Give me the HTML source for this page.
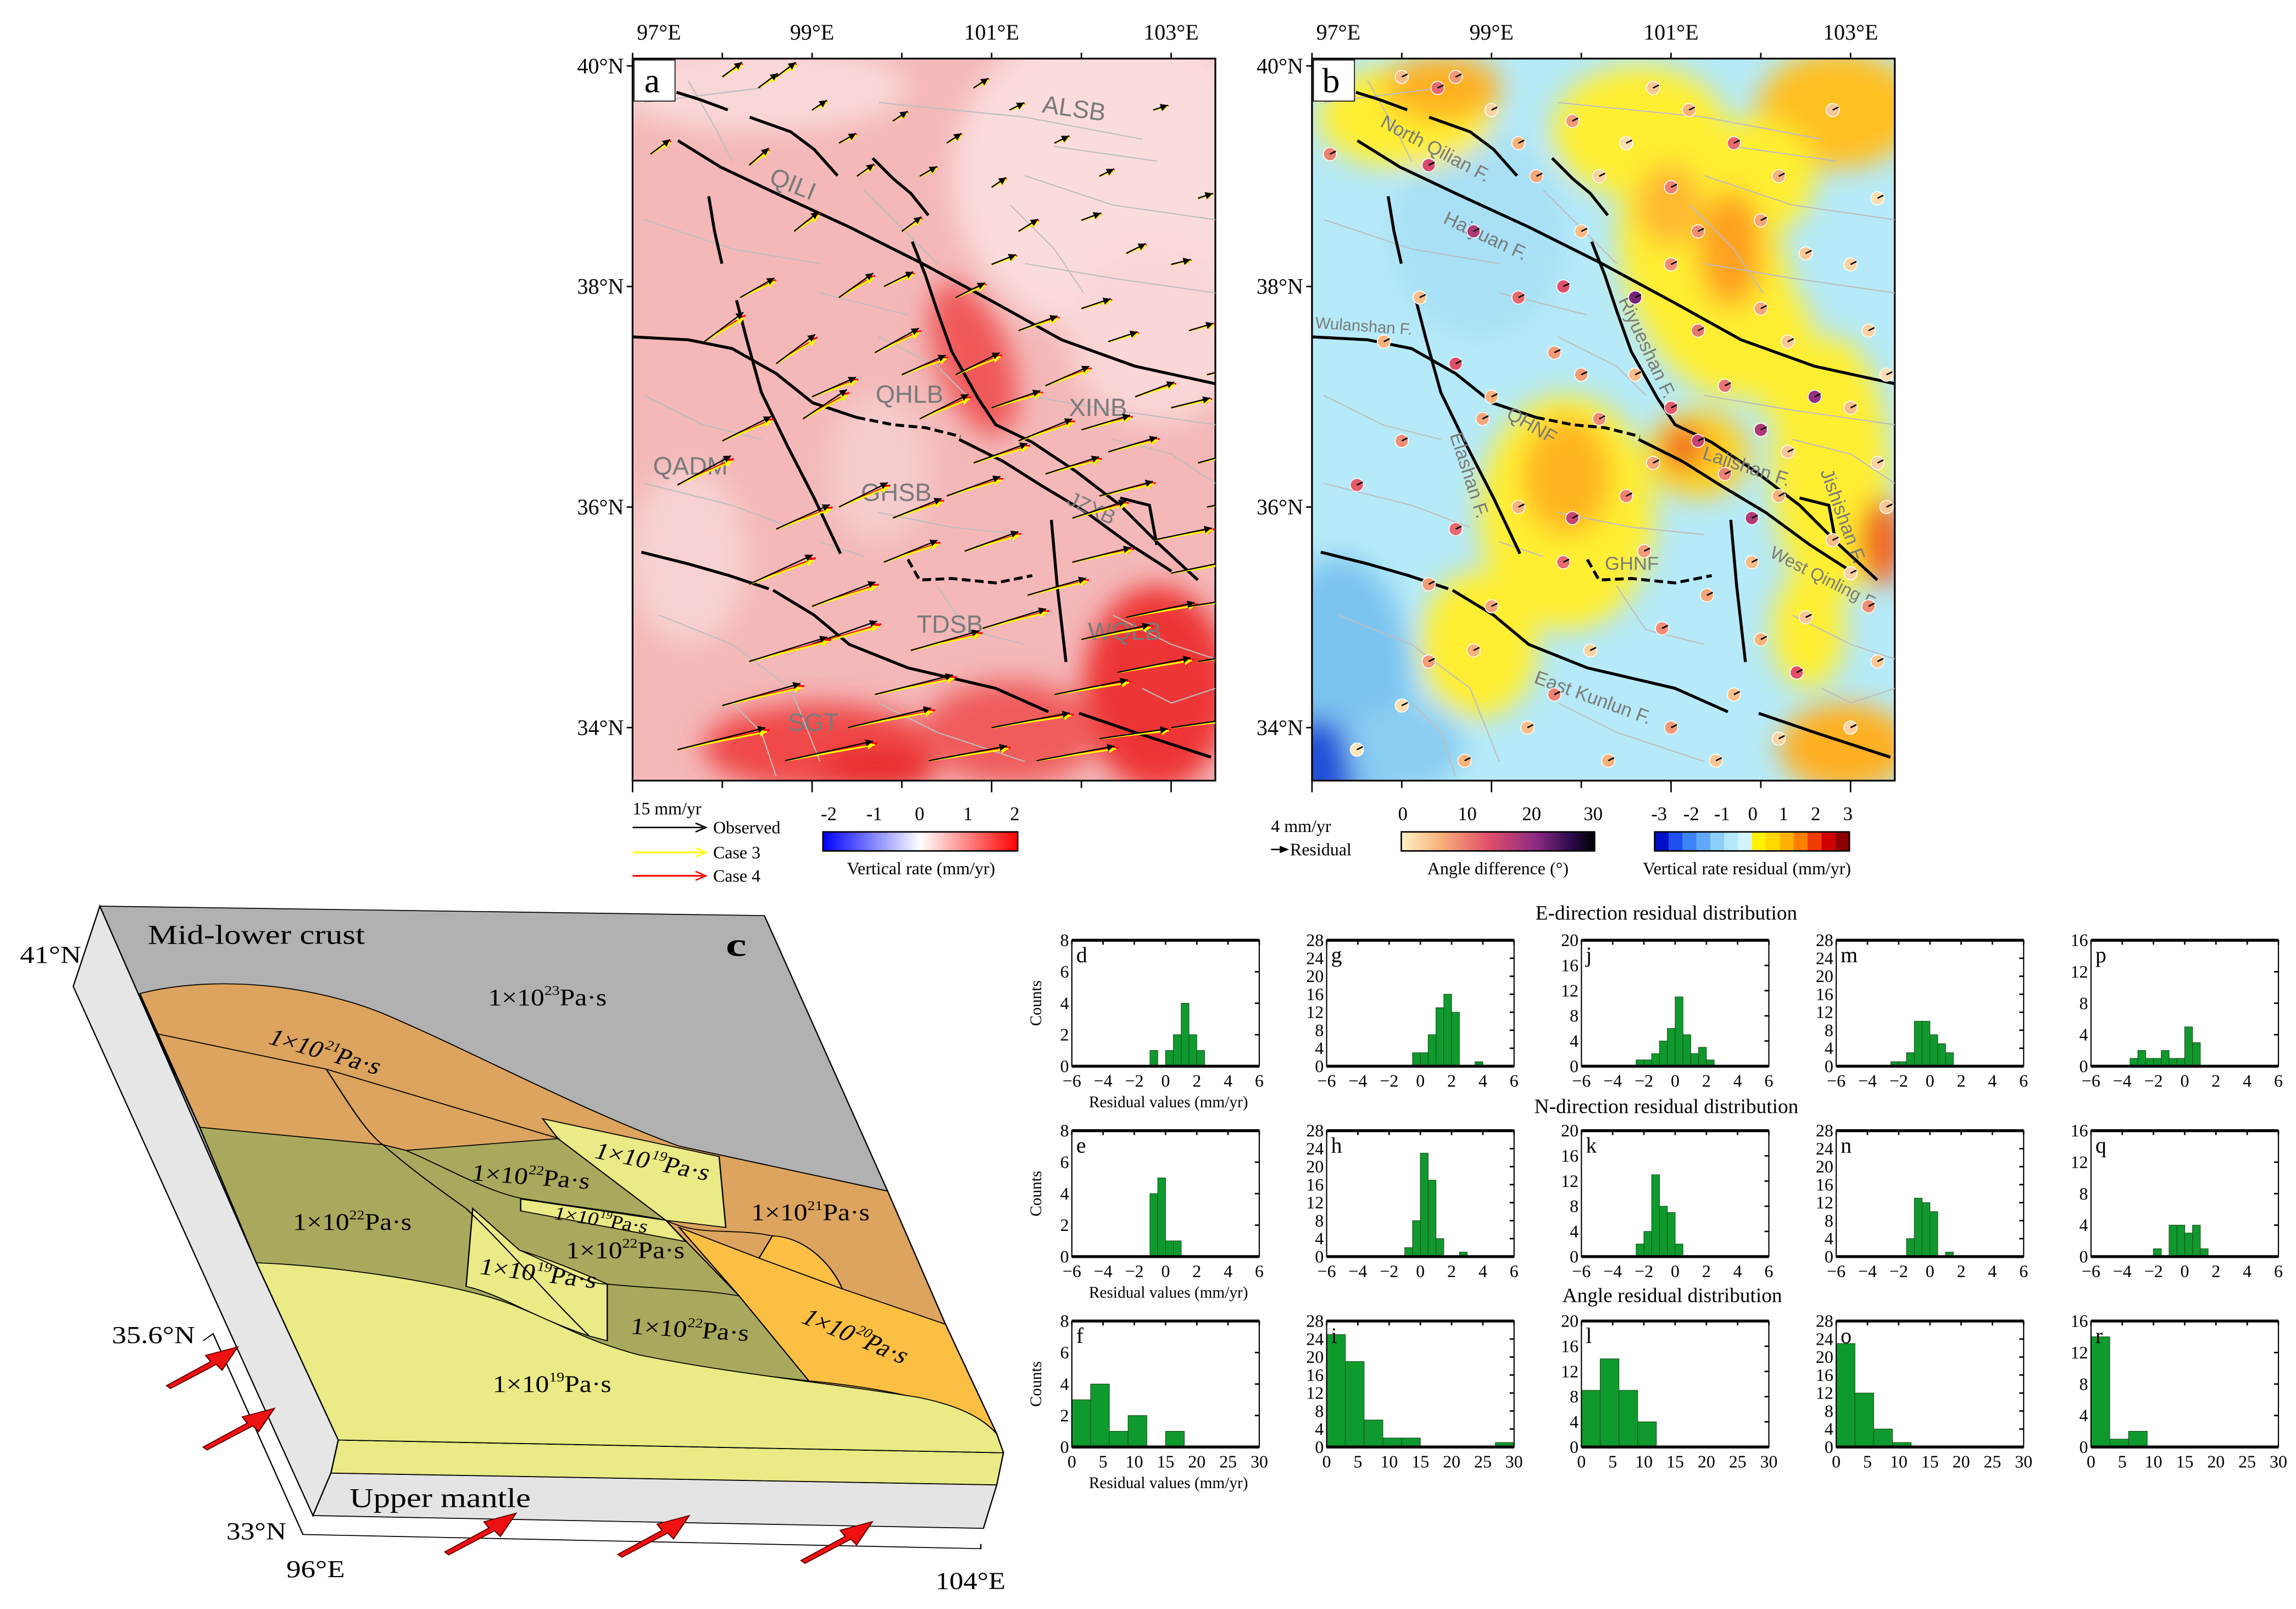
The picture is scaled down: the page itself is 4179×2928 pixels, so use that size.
<!DOCTYPE html>
<html><head><meta charset="utf-8"><title>Figure</title>
<style>html,body{margin:0;padding:0;background:#fff;}svg{display:block;}</style></head>
<body>
<svg id="fig" xmlns="http://www.w3.org/2000/svg" width="4179" height="2928" viewBox="0 0 1568 1098.6" font-family="'Liberation Serif', serif">
<defs>
<filter id="blur" x="-30%" y="-30%" width="160%" height="160%"><feGaussianBlur stdDeviation="9"/></filter>
<clipPath id="clipA"><rect x="432" y="40" width="398" height="493"/></clipPath>
<clipPath id="clipB"><rect x="896" y="40" width="398" height="493"/></clipPath>
<linearGradient id="gA" x1="0" x2="1"><stop offset="0" stop-color="#0000ff"/><stop offset="0.5" stop-color="#ffffff"/><stop offset="1" stop-color="#ff0000"/></linearGradient>
<linearGradient id="gAng" x1="0" x2="1"><stop offset="0" stop-color="#fdf2c8"/><stop offset="0.2" stop-color="#f9b27a"/><stop offset="0.45" stop-color="#e0506a"/><stop offset="0.7" stop-color="#8a2a82"/><stop offset="0.88" stop-color="#2a0a4a"/><stop offset="1" stop-color="#000000"/></linearGradient>
</defs>

<!-- MAP A -->
<g id="mapA">
<g clip-path="url(#clipA)">
<rect x="432" y="40" width="398" height="493" fill="#f4b8b8"/>
<g filter="url(#blur)">
<ellipse cx="760" cy="120" rx="110" ry="110" fill="#fbdcdc"/>
<ellipse cx="790" cy="230" rx="60" ry="60" fill="#fad6d6"/>
<ellipse cx="520" cy="60" rx="100" ry="30" fill="#fad8d8"/>
<ellipse cx="470" cy="380" rx="40" ry="60" fill="#f8d2d2"/>
<ellipse cx="600" cy="320" rx="35" ry="50" fill="#f6cccc"/>
<ellipse cx="665" cy="245" rx="25" ry="55" fill="#f05858" transform="rotate(-20 665 245)"/>
<ellipse cx="560" cy="510" rx="80" ry="30" fill="#f04848"/>
<ellipse cx="790" cy="470" rx="50" ry="70" fill="#ee3434"/>
<ellipse cx="690" cy="500" rx="60" ry="35" fill="#f05c5c"/>
<ellipse cx="600" cy="525" rx="40" ry="15" fill="#ea2a2a"/>
</g>
</g>
<rect x="432" y="40" width="398" height="493" fill="none" stroke="#000" stroke-width="1.2"/>
<g id="grayA" fill="none" stroke="#bdbdbd" stroke-width="0.8" clip-path="url(#clipA)"></g>
<g id="faultA" fill="none" stroke="#000" stroke-width="2"></g>
<g id="labelsA" font-family="'Liberation Sans', sans-serif" font-size="17" fill="#7a7a7a">
<text x="712" y="80" transform="rotate(8 735 73)">ALSB</text>
<text x="525" y="134" transform="rotate(22 548 128)">QILI</text>
<text x="598" y="275">QHLB</text>
<text x="730" y="284">XINB</text>
<text x="446" y="324">QADM</text>
<text x="588" y="342">GHSB</text>
<text x="728" y="352" font-size="14" transform="rotate(25 746 348)">JZXB</text>
<text x="626" y="432">TDSB</text>
<text x="743" y="437">WQLB</text>
<text x="538" y="499">SGT</text>
</g>
<g id="arrowsA" clip-path="url(#clipA)"></g>
<rect x="433" y="41" width="28" height="28" fill="#fff" stroke="#000" stroke-width="0.6"/>
<text x="440" y="63" font-size="24">a</text>
</g>

<!-- MAP B -->
<g id="mapB">
<g clip-path="url(#clipB)">
<rect x="896" y="40" width="398" height="493" fill="#b6eaf8"/>
<g filter="url(#blur)">
<ellipse cx="915" cy="470" rx="50" ry="90" fill="#7cc4f0"/>
<ellipse cx="900" cy="525" rx="25" ry="35" fill="#2050d8"/>
<ellipse cx="960" cy="510" rx="40" ry="30" fill="#8acdf2"/>
<ellipse cx="1010" cy="160" rx="60" ry="70" fill="#a8e0f6"/>
<ellipse cx="960" cy="80" rx="60" ry="35" fill="#ffee30"/>
<ellipse cx="985" cy="60" rx="40" ry="22" fill="#ffb020"/>
<ellipse cx="1120" cy="90" rx="60" ry="45" fill="#ffee30"/>
<ellipse cx="1255" cy="75" rx="55" ry="40" fill="#ffc020"/>
<ellipse cx="1200" cy="120" rx="40" ry="40" fill="#ffee30"/>
<ellipse cx="1165" cy="185" rx="55" ry="90" fill="#ffee30" transform="rotate(-20 1165 185)"/>
<ellipse cx="1140" cy="140" rx="22" ry="28" fill="#ffb830"/>
<ellipse cx="1182" cy="170" rx="22" ry="40" fill="#ffa020"/>
<ellipse cx="1070" cy="350" rx="60" ry="80" fill="#ffee30"/>
<ellipse cx="1070" cy="325" rx="30" ry="40" fill="#ffb420"/>
<ellipse cx="1010" cy="440" rx="40" ry="50" fill="#ffee30"/>
<ellipse cx="1160" cy="310" rx="35" ry="30" fill="#ffd020"/>
<ellipse cx="1150" cy="305" rx="15" ry="15" fill="#f06020"/>
<ellipse cx="1250" cy="320" rx="40" ry="90" fill="#ffee30"/>
<ellipse cx="1285" cy="370" rx="15" ry="30" fill="#f06020"/>
<ellipse cx="1260" cy="510" rx="45" ry="30" fill="#ffb020"/>
<ellipse cx="1235" cy="430" rx="25" ry="40" fill="#ffee30"/>
<ellipse cx="1215" cy="240" rx="25" ry="45" fill="#ffee30"/>
</g>
</g>
<rect x="896" y="40" width="398" height="493" fill="none" stroke="#000" stroke-width="1.2"/>
<g id="grayB" fill="none" stroke="#bdbdbd" stroke-width="0.8" clip-path="url(#clipB)"></g>
<g id="faultB" fill="none" stroke="#000" stroke-width="2"></g>
<g id="labelsB" font-family="'Liberation Sans', sans-serif" font-size="13" fill="#7a7a7a">
<text x="942" y="86" transform="rotate(28 942 86)">North Qilian F.</text>
<text x="985" y="152" transform="rotate(25 985 152)">Haiyuan F.</text>
<text x="898" y="224" font-size="11" transform="rotate(4 898 224)">Wulanshan F.</text>
<text x="1105" y="205" transform="rotate(65 1105 205)">Riyueshan F.</text>
<text x="1028" y="285" transform="rotate(30 1028 285)">QHNF</text>
<text x="990" y="297" transform="rotate(72 990 297)">Elashan F.</text>
<text x="1162" y="313" transform="rotate(18 1162 313)">Lajishan F.</text>
<text x="1243" y="322" transform="rotate(70 1243 322)">Jishishan F.</text>
<text x="1208" y="380" font-size="12" transform="rotate(27 1208 380)">West Qinling F.</text>
<text x="1096" y="389">GHNF</text>
<text x="1047" y="466" transform="rotate(20 1047 466)">East Kunlun F.</text>
</g>
<g id="stationsB" clip-path="url(#clipB)"></g>
<rect x="897" y="41" width="28" height="28" fill="#fff" stroke="#000" stroke-width="0.6"/>
<text x="903" y="63" font-size="24">b</text>
</g>

<g id="mapAxes" font-size="15" fill="#000"></g>

<!-- LEGENDS -->
<g font-size="12">
<text x="432" y="556">15 mm/yr</text>
<line x1="432" y1="565" x2="480" y2="565" stroke="#000" stroke-width="1"/><path d="M475,562 L482,565 L475,568" fill="none" stroke="#000"/>
<text x="487" y="569">Observed</text>
<line x1="432" y1="582" x2="480" y2="582" stroke="#ffff00" stroke-width="1.2"/><path d="M475,579 L482,582 L475,585" fill="none" stroke="#ffff00"/>
<text x="487" y="586">Case 3</text>
<line x1="432" y1="598" x2="480" y2="598" stroke="#ff0000" stroke-width="1.2"/><path d="M475,595 L482,598 L475,601" fill="none" stroke="#ff0000"/>
<text x="487" y="602">Case 4</text>
<rect x="562" y="568" width="133" height="13" fill="url(#gA)" stroke="#000" stroke-width="1"/>
<g font-size="13" text-anchor="middle"><text x="566" y="560">-2</text><text x="597" y="560">-1</text><text x="628" y="560">0</text><text x="661" y="560">1</text><text x="693" y="560">2</text></g>
<text x="629" y="597" text-anchor="middle">Vertical rate (mm/yr)</text>
</g>
<g font-size="12">
<text x="868" y="568">4 mm/yr</text>
<line x1="868" y1="580" x2="877" y2="580" stroke="#000"/><path d="M874,578 L879,580 L874,582" fill="#000" stroke="#000"/>
<text x="881" y="584">Residual</text>
<rect x="957" y="568" width="132" height="13" fill="url(#gAng)" stroke="#000" stroke-width="1"/>
<g font-size="13" text-anchor="middle"><text x="958" y="560">0</text><text x="1002" y="560">10</text><text x="1046" y="560">20</text><text x="1088" y="560">30</text></g>
<text x="1023" y="597" text-anchor="middle">Angle difference (°)</text>
<g id="resBar"></g>
<g font-size="13" text-anchor="middle"><text x="1133" y="560">-3</text><text x="1155" y="560">-2</text><text x="1176" y="560">-1</text><text x="1197" y="560">0</text><text x="1218" y="560">1</text><text x="1240" y="560">2</text><text x="1262" y="560">3</text></g>
<text x="1193" y="597" text-anchor="middle">Vertical rate residual (mm/yr)</text>
</g>

<!-- PANEL C -->
<svg x="0" y="592.9" width="713" height="505.8" viewBox="0 0 1568 1568" preserveAspectRatio="none">
<polygon points="150,80 110,250 470,1370 497,1280 508,1210 385,835" fill="#e6e6e6" stroke="#000" stroke-width="2"/>
<polygon points="497,1280 470,1370 1477,1397 1497,1305" fill="#e4e4e4" stroke="#000" stroke-width="2"/>
<polygon points="508,1210 497,1280 1497,1305 1507,1237" fill="#eaea86" stroke="#000" stroke-width="2"/>
<polygon points="150,80 1148,100 1333,683 1420,965 1497,1197 1507,1237 508,1210 385,835" fill="#b1b1b1" stroke="#000" stroke-width="2"/>
<path d="M210,265 C320,225 470,245 580,310 C720,395 870,510 1020,588 L1333,683 L1420,965 L1497,1197 L1507,1237 L508,1210 L385,835 L300,548 Z" fill="#dca45e" stroke="#000" stroke-width="2"/>
<polygon points="300,548 575,585 610,597 838,572 1000,745 1110,905 1215,1085 1000,1050 385,835" fill="#a9a95e" stroke="#000" stroke-width="2"/>
<path d="M1020,760 L1140,825 L1265,890 L1420,965 L1497,1197 C1440,1130 1330,1100 1215,1085 L1110,905 Z" fill="#fbbf43" stroke="#000" stroke-width="2"/>
<path d="M1140,825 L1160,778 C1210,780 1250,840 1265,890 Z" fill="#fbbf43" stroke="#000" stroke-width="2"/>
<path d="M385,835 C500,840 700,880 780,930 C850,970 880,1000 960,1030 C1100,1070 1250,1090 1380,1120 C1450,1140 1480,1170 1497,1197 L1507,1237 L508,1210 Z" fill="#eaea86" stroke="#000" stroke-width="2"/>
<polygon points="815,530 1080,610 1090,760 1000,745 838,572" fill="#eaea86" stroke="#000" stroke-width="2"/>
<polygon points="782,700 1000,745 1030,790 782,725" fill="#eaea86" stroke="#000" stroke-width="2"/>
<path d="M710,720 L780,808 C830,830 880,860 912,880 L912,1000 L885,990 C800,950 750,900 700,885 Z" fill="#eaea86" stroke="#000" stroke-width="2"/>
<g fill="none" stroke="#000" stroke-width="2">
<path d="M235,350 L490,425 L840,572"/>
<path d="M490,425 C520,490 550,560 575,585 C620,640 660,680 700,720 C760,800 820,900 885,990"/>
<path d="M610,597 C680,640 740,690 790,700 C880,720 950,730 1000,745 C1050,780 1100,760 1160,778"/>
<path d="M780,808 C850,850 880,880 912,880 C980,890 1050,890 1110,905"/>
<path d="M1020,588 L1333,683"/>
<path d="M210,265 L235,350 L300,548"/>
</g>
<g fill="#000" font-family="'Liberation Serif', serif">
<text x="222" y="160" font-size="58" textLength="326" lengthAdjust="spacingAndGlyphs">Mid-lower crust</text>
<text x="1090" y="185" font-size="70" font-weight="bold">c</text>
<text x="30" y="200" font-size="52" textLength="92" lengthAdjust="spacingAndGlyphs">41°N</text>
<text x="168" y="1005" font-size="52" textLength="125" lengthAdjust="spacingAndGlyphs">35.6°N</text>
<text x="340" y="1420" font-size="52" textLength="90" lengthAdjust="spacingAndGlyphs">33°N</text>
<text x="430" y="1500" font-size="52" textLength="88" lengthAdjust="spacingAndGlyphs">96°E</text>
<text x="1405" y="1525" font-size="52" textLength="105" lengthAdjust="spacingAndGlyphs">104°E</text>
<text x="525" y="1352" font-size="58" textLength="272" lengthAdjust="spacingAndGlyphs">Upper mantle</text>
<g font-size="50">
<g transform="translate(733,290) scale(0.82,1)"><text>1×10<tspan font-size="28" dy="-22">23</tspan><tspan dy="22">Pa·s</tspan></text></g>
<g transform="translate(400,370) rotate(22) scale(0.82,1)"><text>1×10<tspan font-size="28" dy="-22">21</tspan><tspan dy="22">Pa·s</tspan></text></g>
<g transform="translate(707,660) rotate(6) scale(0.82,1)"><text>1×10<tspan font-size="28" dy="-22">22</tspan><tspan dy="22">Pa·s</tspan></text></g>
<g transform="translate(890,612) rotate(16) scale(0.82,1)"><text>1×10<tspan font-size="28" dy="-22">19</tspan><tspan dy="22">Pa·s</tspan></text></g>
<g transform="translate(440,765) scale(0.82,1)"><text>1×10<tspan font-size="28" dy="-22">22</tspan><tspan dy="22">Pa·s</tspan></text></g>
<g transform="translate(830,742) rotate(12) scale(0.66,0.8)"><text>1×10<tspan font-size="28" dy="-22">19</tspan><tspan dy="22">Pa·s</tspan></text></g>
<g transform="translate(850,825) scale(0.82,1)"><text>1×10<tspan font-size="28" dy="-22">22</tspan><tspan dy="22">Pa·s</tspan></text></g>
<g transform="translate(1128,745) scale(0.82,1)"><text>1×10<tspan font-size="28" dy="-22">21</tspan><tspan dy="22">Pa·s</tspan></text></g>
<g transform="translate(718,858) rotate(10) scale(0.82,1)"><text>1×10<tspan font-size="28" dy="-22">19</tspan><tspan dy="22">Pa·s</tspan></text></g>
<g transform="translate(946,985) rotate(5) scale(0.82,1)"><text>1×10<tspan font-size="28" dy="-22">22</tspan><tspan dy="22">Pa·s</tspan></text></g>
<g transform="translate(1200,960) rotate(30) scale(0.82,1)"><text>1×10<tspan font-size="28" dy="-22">20</tspan><tspan dy="22">Pa·s</tspan></text></g>
<g transform="translate(740,1108) scale(0.82,1)"><text>1×10<tspan font-size="28" dy="-22">19</tspan><tspan dy="22">Pa·s</tspan></text></g>
</g>
</g>
<path d="M305,1000 L320,985 L455,1410 L1473,1440 L1473,1430" fill="none" stroke="#000" stroke-width="2"/>
<g id="pushArrows"></g>
</svg>

<!-- HISTOGRAMS -->
<g font-size="14" text-anchor="middle">
<text x="1138" y="628">E-direction residual distribution</text>
<text x="1138" y="760">N-direction residual distribution</text>
<text x="1142" y="889">Angle residual distribution</text>
</g>
<g id="hists" font-size="12"></g>
</svg>

<script>
// ---------------- Histogram data ----------------
const eStarts_d=[-1,0,0.5,1,1.5,2];            const eCounts_d=[1,1,2,4,2,1];
const eStarts_g=[-0.5,0,0.5,1,1.5,2,3.5];      const eCounts_g=[3,3,7,13,16,12,1];
const eStarts_j=[-2.5,-2,-1.5,-1,-0.5,0,0.5,1,1.5,2]; const eCounts_j=[1,1,2,4,6,11,5,2,3,1];
const eStarts_m=[-2.5,-2,-1.5,-1,-0.5,0,0.5,1]; const eCounts_m=[1,1,3,10,10,7,5,3];
const eStarts_p=[-3.5,-3,-2.5,-2,-1.5,-1,-0.5,0,0.5]; const eCounts_p=[1,2,1,1,2,1,1,5,3];
const nStarts_e=[-1,-0.5,0,0.5];               const nCounts_e=[4,5,1,1];
const nStarts_h=[-1,-0.5,0,0.5,1,2.5];         const nCounts_h=[2,8,23,17,4,1];
const nStarts_k=[-2.5,-2,-1.5,-1,-0.5,0];      const nCounts_k=[2,4,13,8,7,2];
const nStarts_n=[-1.5,-1,-0.5,0,1];            const nCounts_n=[4,13,12,10,1];
const nStarts_q=[-2,-1,-0.5,0,0.5,1];          const nCounts_q=[1,4,4,3,4,1];
const aCounts_f=[3,4,1,2,0,1];
const aCounts_i=[25,19,6,2,2,0,0,0,0,1];
const aCounts_l=[9,14,9,4];
const aCounts_o=[23,12,4,1];
const aCounts_r=[14,1,2];
const yMaxCols=[8,28,20,28,16];
const yTicks8=[0,2,4,6,8], yTicks28=[0,4,8,12,16,20,24,28], yTicks20=[0,4,8,12,16,20], yTicks16=[0,4,8,12,16];
const resTicks=[-6,-4,-2,0,2,4,6];
const angTicks=[0,5,10,15,20,25,30];
const angleBinWidth=3;

// ---------------- Map data ----------------
const staLon=[98.0,98.4,99.0,99.9,100.5,101.2,102.8,98.3,99.5,100.2,101.0,102.2,103.3,98.8,100.0,101.3,102.5,99.3,100.6,102.0,103.2,97.8,98.6,99.7,100.6,101.6,102.6,98.9,100.2,101.3,102.3,103.3,97.5,99.3,100.5,101.9,102.8,98.3,99.8,101.4,102.5,103.2,98.8,100.1,102.4,98.0,99.4,101.0,97.5,100.3,102.2,
 97.2,98.6,99.3,100.8,101.7,102.0,103.0,101.0,99.8,98.2,101.3,102.3,103.4,99.0,100.0,101.0,102.0,103.0,98.0,100.8,101.6,102.2,103.4,98.6,99.9,100.7,101.9,103.0,99.0,100.9,102.0,103.3,98.3,99.7,101.7,103.0,98.7,101.5];
const staLat=[39.9,39.8,39.6,39.5,39.3,39.6,39.6,39.1,39.0,39.0,38.9,39.0,38.8,38.5,38.5,38.5,38.3,37.9,37.9,37.8,37.6,37.5,37.3,37.4,37.2,37.1,37.0,36.8,36.8,36.6,36.5,36.4,36.2,36.0,36.1,35.9,35.7,35.3,35.5,35.2,35.0,35.1,34.7,34.7,34.5,34.2,34.0,34.0,33.8,33.7,33.9,
 39.2,39.9,39.3,39.8,39.3,38.6,38.2,38.2,38.0,37.9,37.6,37.5,37.2,37.0,37.2,36.9,36.7,36.9,36.6,36.4,36.3,36.1,36.0,35.8,35.9,35.6,35.5,35.4,35.1,34.9,34.8,34.6,34.6,34.3,34.3,34.0,33.7,33.7];
const staVe=[4,4,3,3,3,3,3,4,3.5,3.5,3,3,3,5,4,4,4,7,6,6,5,8,8,9,9,9,8,9,10,11,10,9,11,10,11,11,12,13,11,12,14,13,17,14,15,16,17,16,18,16,14,
 4,4,3.5,3,3,4,4,5,6,7,8,6,6,9,9,10,10,8,10,11,11,11,10,11,10,11,12,12,13,13,14,13,16,16,15,14,18,16];
const staVn=[3,3,2,2,2,1.5,1,3.5,2.5,2,2,1.5,1,4,3,2.5,2,5,3,2,1.5,6,6,5,4.5,4,3,6,5,4.5,3,2.5,6,5,4,3.5,2.5,6,4.5,3.5,3,2,6,4,3,4.5,4,3,4.5,3,2,
 3,3,2,2,1.5,1.5,1,2,3,4,3,2,1.5,4,4,3.5,3,2,5,4,3.5,3,2,5,4,4,3,2.5,5,4,3,2,5,4,3,2,4,3];
const staAngle=[5,12,3,8,2,6,4,15,7,3,10,6,2,18,5,9,4,12,22,7,3,6,14,8,5,11,20,7,9,16,4,3,13,6,10,18,5,8,12,7,4,9,6,3,14,2,5,8,1,6,3,
 10,8,6,4,12,7,3,9,14,5,11,4,2,6,8,13,18,5,9,7,10,6,4,12,16,8,5,3,7,9,6,4,8,10,5,3,6,4];

const faults=[
 [[462,63],[478,68],[497,75]],
 [[512,80],[540,90],[556,102],[572,120]],
 [[596,108],[610,122],[622,132],[634,147]],
 [[463,96],[492,114],[530,132],[580,155],[630,180],[680,207],[725,232],[775,250],[830,262]],
 [[484,134],[488,158],[493,180]],
 [[623,165],[632,188],[640,212],[650,240],[668,272],[680,290],[705,302],[735,322],[765,345],[792,372],[818,396]],
 [[432,230],[470,232],[500,238],[530,255],[555,275],[585,285]],
 [[503,205],[510,232],[520,268],[538,305],[556,340],[574,378]],
 [[655,300],[685,315],[712,332],[742,350],[772,372],[800,390]],
 [[438,377],[470,385],[498,393],[525,402]],
 [[528,403],[556,420],[580,440],[620,456],[680,470],[716,486]],
 [[737,487],[775,500],[827,517]],
 [[718,355],[722,400],[728,452]],
 [[765,340],[785,345],[790,372]]
];
const dashedFaults=[[[585,285],[610,290],[632,292],[656,298]],[[620,382],[628,396],[650,395],[680,398],[705,393]]];
const grayLines=[[[440,70],[520,60]],[[600,70],[700,80],[780,95]],[[700,120],[760,140],[830,150]],[[440,150],[500,170],[560,180]],[[560,200],[620,215]],[[700,180],[760,190],[830,200]],[[440,270],[480,290],[520,300]],[[600,230],[640,250],[660,270]],[[700,270],[760,280],[830,290]],[[440,330],[500,345],[540,360]],[[600,350],[650,360],[700,365]],[[760,300],[800,310],[830,330]],[[450,420],[500,440],[540,470],[560,520]],[[600,480],[640,500],[700,520]],[[760,420],[800,440],[830,450]],[[640,400],[660,430],[700,440]],[[560,370],[590,380]],[[500,480],[520,500],[530,530]],[[780,470],[800,480],[830,470]],[[720,100],[790,110]],[[470,55],[490,90],[500,110]],[[590,130],[620,160],[640,180]],[[690,140],[720,170],[740,200]]];
const resColors=['#0010c8','#2050ee','#3c84f6','#62a8f8','#8ccef8','#b4e8fa','#d4f4fc','#fff200','#ffd800','#ffb000','#ff8000','#f03c00','#d00000','#8c0000'];
const lonTicks=[97,99,101,103], latTicks=[40,38,36,34];

const NS='http://www.w3.org/2000/svg';
function mk(t,p){const e=document.createElementNS(NS,t);p.appendChild(e);return e;}
function lonX(lon,off){return off+432+(lon-97)*61.3;}
function latY(lat){return 45+(40-lat)*75.3;}
function ptsStr(pts,off){return pts.map(p=>(p[0]+off)+','+p[1]).join(' ');}

[['faultA',0],['faultB',464]].forEach(([id,off])=>{
  const g=document.getElementById(id);
  faults.forEach(f=>{const l=mk('polyline',g);
    
    
    l.setAttribute('points',ptsStr(f,off));});
  dashedFaults.forEach(f=>{const l=mk('polyline',g);
    
    
    l.setAttribute('points',ptsStr(f,off));l.setAttribute('stroke-dasharray','6 3');});
});
[['grayA',0],['grayB',464]].forEach(([id,off])=>{
  const g=document.getElementById(id);
  grayLines.forEach(f=>{const l=mk('polyline',g);
    
    
    l.setAttribute('points',ptsStr(f,off));});
});

const arrScale=50/15;
function arrow(g,x,y,dx,dy,col,w){
  const len=Math.hypot(dx,dy), ux=dx/len, uy=dy/len;
  const l=mk('line',g);
  
  
  l.setAttribute('x1',x);l.setAttribute('y1',y);l.setAttribute('x2',x+dx);l.setAttribute('y2',y+dy);
  l.setAttribute('stroke',col);l.setAttribute('stroke-width',w);
  const h=mk('path',g);
  
  
  const hx=x+dx,hy=y+dy,s=5;
  h.setAttribute('d',`M${hx},${hy} L${hx-ux*s-uy*s*0.5},${hy-uy*s+ux*s*0.5} L${hx-ux*s+uy*s*0.5},${hy-uy*s-ux*s*0.5}Z`);
  h.setAttribute('fill',col);
}
const gA=document.getElementById('arrowsA');
for(let i=0;i<staLon.length;i++){
  const x=lonX(staLon[i],0), y=latY(staLat[i]);
  const ve=staVe[i], vn=staVn[i];
  arrow(gA,x,y,ve*1.05*arrScale,-vn*0.9*arrScale,'#ff0000',1.2);
  arrow(gA,x,y,ve*1.02*arrScale,-vn*0.82*arrScale,'#ffff00',1.2);
  arrow(gA,x,y,ve*arrScale,-vn*arrScale,'#000000',0.9);
}
function angColor(a){const stops=[[0,[253,242,200]],[6,[249,178,122]],[14,[224,80,106]],[21,[138,42,130]],[26,[42,10,74]],[30,[0,0,0]]];
  for(let k=0;k<stops.length-1;k++){if(a<=stops[k+1][0]){const t=(a-stops[k][0])/(stops[k+1][0]-stops[k][0]);const c=stops[k][1].map((v,j)=>Math.round(v+(stops[k+1][1][j]-v)*t));return `rgb(${c})`;}}return '#000';}
const gB=document.getElementById('stationsB');
for(let i=0;i<staLon.length;i++){
  const x=lonX(staLon[i],464), y=latY(staLat[i]);
  const c=mk('circle',gB);
  
  
  c.setAttribute('cx',x);c.setAttribute('cy',y);c.setAttribute('r',4.5);
  c.setAttribute('fill',angColor(staAngle[i]));c.setAttribute('stroke','#fff');c.setAttribute('stroke-width',0.6);
  const d=mk('line',gB);
  
  
  d.setAttribute('x1',x);d.setAttribute('y1',y);d.setAttribute('x2',x+4);d.setAttribute('y2',y-2);
  d.setAttribute('stroke','#000');d.setAttribute('stroke-width',1);
}
const rb=document.getElementById('resBar');
resColors.forEach((c,i)=>{const r=mk('rect',rb);
  
  
  r.setAttribute('x',1130+i*133/14);r.setAttribute('y',568);r.setAttribute('width',133/14+0.3);r.setAttribute('height',13);r.setAttribute('fill',c);});
const rbb=mk('rect',rb);


rbb.setAttribute('x',1130);rbb.setAttribute('y',568);rbb.setAttribute('width',133);rbb.setAttribute('height',13);rbb.setAttribute('fill','none');rbb.setAttribute('stroke','#000');

const ax=document.getElementById('mapAxes');
[0,464].forEach(off=>{
  lonTicks.forEach(lon=>{const t=mk('text',ax);
    
    
    const x=lonX(lon,off)+(lon===97?18:0);
    t.setAttribute('x',x);t.setAttribute('y',27);t.setAttribute('text-anchor','middle');t.textContent=lon+'°E';});
  for(let lon=97;lon<=103;lon++){const tk=mk('line',ax);
    
    
    const x=lonX(lon,off);tk.setAttribute('x1',x);tk.setAttribute('x2',x);tk.setAttribute('y1',40);tk.setAttribute('y2',36);tk.setAttribute('stroke','#000');
    const tb=mk('line',ax);
    
    
    tb.setAttribute('x1',x);tb.setAttribute('x2',x);tb.setAttribute('y1',533);tb.setAttribute('y2',(lon%2?541:538));tb.setAttribute('stroke','#000');}
  latTicks.forEach(lat=>{const t=mk('text',ax);
    
    
    t.setAttribute('x',426+off);t.setAttribute('y',latY(lat)+5);t.setAttribute('text-anchor','end');t.textContent=lat+'°N';
    const tk=mk('line',ax);
    
    
    tk.setAttribute('x1',428+off);tk.setAttribute('x2',432+off);tk.setAttribute('y1',latY(lat));tk.setAttribute('y2',latY(lat));tk.setAttribute('stroke','#000');});
});

const pushStart=[[250,1095],[305,1225],[668,1447],[928,1452],[1203,1465]];
const pa=document.getElementById('pushArrows');
pushStart.forEach(([x,y])=>{const p=mk('path',pa);
  
  
  const dx=107,dy=-82;
  p.setAttribute('d',`M${x},${y} L${x+dx*0.62},${y+dy*0.62} L${x+dx*0.55},${y+dy*0.78} L${x+dx},${y+dy} L${x+dx*0.78},${y+dy*0.4} L${x+dx*0.7},${y+dy*0.55} L${x+6},${y+6}Z`);
  p.setAttribute('fill','#ee1111');p.setAttribute('stroke','#600');p.setAttribute('stroke-width',2);});

const colX=[732,906,1080,1254,1428], rowY=[642,772,902], W=128, H=86;
const hg=document.getElementById('hists');
const yTickSets=[yTicks8,yTicks28,yTicks20,yTicks28,yTicks16];
const panels=[
 [['d',eStarts_d,eCounts_d],['g',eStarts_g,eCounts_g],['j',eStarts_j,eCounts_j],['m',eStarts_m,eCounts_m],['p',eStarts_p,eCounts_p]],
 [['e',nStarts_e,nCounts_e],['h',nStarts_h,nCounts_h],['k',nStarts_k,nCounts_k],['n',nStarts_n,nCounts_n],['q',nStarts_q,nCounts_q]],
 [['f',null,aCounts_f],['i',null,aCounts_i],['l',null,aCounts_l],['o',null,aCounts_o],['r',null,aCounts_r]]
];
panels.forEach((row,ri)=>row.forEach((pn,ci)=>{
  const [letter,starts,counts]=pn;
  const x0=colX[ci], y0=rowY[ri], ymax=yMaxCols[ci];
  const isAng=ri===2;
  const xmin=isAng?0:-6, xmax=isAng?30:6, bw=isAng?angleBinWidth:0.5;
  const sx=v=>x0+(v-xmin)/(xmax-xmin)*W, sy=v=>y0+H-v/ymax*H;
  const g=mk('g',hg);
  
  
  counts.forEach((c,k)=>{if(!c)return;
    const s=isAng?k*bw:starts[k];
    const r=mk('rect',g);
    
    
    r.setAttribute('x',sx(s));r.setAttribute('width',sx(s+bw)-sx(s));r.setAttribute('y',sy(c));r.setAttribute('height',sy(0)-sy(c));
    r.setAttribute('fill','#0f9a2e');r.setAttribute('stroke','#1a4a1a');r.setAttribute('stroke-width',0.4);});
  const fr=mk('rect',g);
  
  
  fr.setAttribute('x',x0);fr.setAttribute('y',y0);fr.setAttribute('width',W);fr.setAttribute('height',H);fr.setAttribute('fill','none');fr.setAttribute('stroke','#000');fr.setAttribute('stroke-width',0.8);
  [y0,y0+H].forEach(yy=>{const l=mk('line',g);
    
    
    l.setAttribute('x1',x0);l.setAttribute('x2',x0+W);l.setAttribute('y1',yy);l.setAttribute('y2',yy);l.setAttribute('stroke','#000');l.setAttribute('stroke-width',2);});
  yTickSets[ci].forEach(v=>{const t=mk('text',g);
    
    
    t.setAttribute('x',x0-2);t.setAttribute('y',sy(v)+4);t.setAttribute('text-anchor','end');t.textContent=v;
    const tk=mk('line',g);
    
    
    tk.setAttribute('x1',x0+W-3);tk.setAttribute('x2',x0+W);tk.setAttribute('y1',sy(v));tk.setAttribute('y2',sy(v));tk.setAttribute('stroke','#000');});
  (isAng?angTicks:resTicks).forEach(v=>{const t=mk('text',g);
    
    
    t.setAttribute('x',sx(v));t.setAttribute('y',y0+H+14);t.setAttribute('text-anchor','middle');t.textContent=(v<0?'\u2212':'')+Math.abs(v);
    const tk=mk('line',g);
    
    
    tk.setAttribute('x1',sx(v));tk.setAttribute('x2',sx(v));tk.setAttribute('y1',y0);tk.setAttribute('y2',y0+3);tk.setAttribute('stroke','#000');});
  const lt=mk('text',g);
  
  
  lt.setAttribute('x',x0+3);lt.setAttribute('y',y0+15);lt.setAttribute('font-size',15);lt.textContent=letter;
  if(ci===0){
    const yl=mk('text',g);
    
    
    yl.setAttribute('transform',`translate(711,${y0+H/2}) rotate(-90)`);yl.setAttribute('text-anchor','middle');yl.setAttribute('font-size',11);yl.textContent='Counts';
    const xl=mk('text',g);
    
    
    xl.setAttribute('x',x0+66);xl.setAttribute('y',y0+H+28);xl.setAttribute('text-anchor','middle');xl.setAttribute('font-size',11);xl.textContent='Residual values (mm/yr)';
  }
}));
</script>
</body></html>
